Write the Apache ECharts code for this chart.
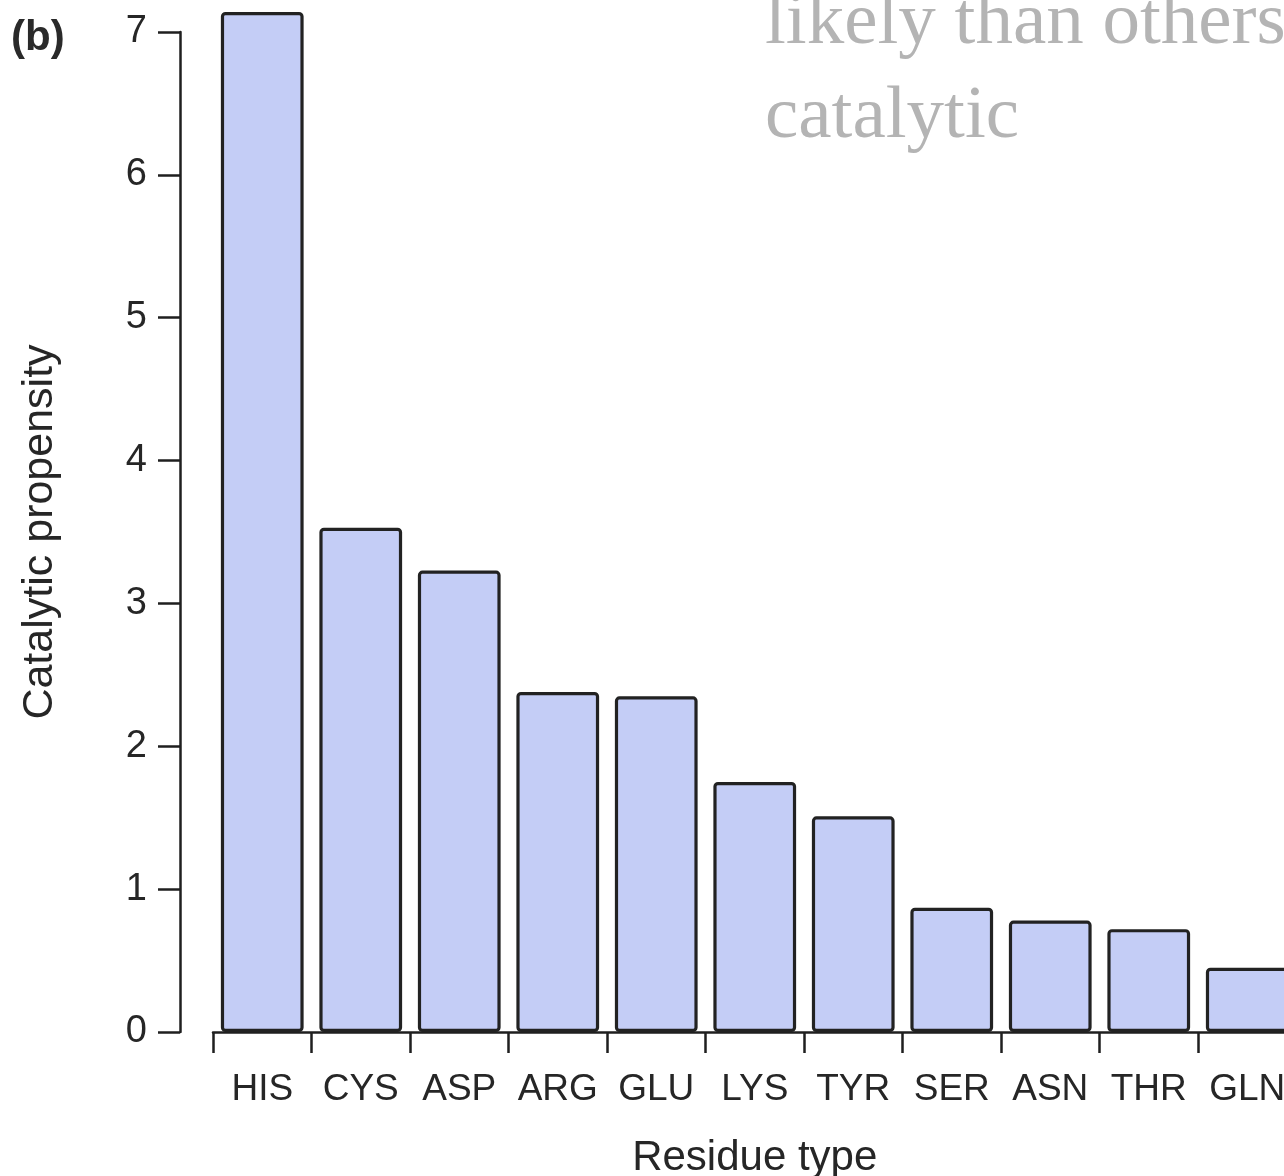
<!DOCTYPE html>
<html>
<head>
<meta charset="utf-8">
<style>
  html, body { margin: 0; padding: 0; background: #ffffff; }
  #chart { width: 1284px; height: 1176px; }
</style>
<script src="https://cdn.jsdelivr.net/npm/echarts@6/dist/echarts.min.js"></script>
</head>
<body>
<div id="chart"></div>
<script>
// Residue types, ordered by catalytic propensity
const residues = ['HIS', 'CYS', 'ASP', 'ARG', 'GLU', 'LYS', 'TYR', 'SER', 'ASN', 'THR', 'GLN'];
const propensity = [7.14, 3.53, 3.23, 2.38, 2.35, 1.75, 1.51, 0.87, 0.78, 0.72, 0.45];
const yTicks = [0, 1, 2, 3, 4, 5, 6, 7];

const axisColor = '#1f1f1f';
const textColor = '#262626';
const sans = '"Liberation Sans", Arial, Helvetica, sans-serif';
const serif = '"Liberation Serif", "Times New Roman", serif';

const chart = echarts.init(document.getElementById('chart'), null, { renderer: 'canvas' });

chart.setOption({
  backgroundColor: '#ffffff',
  animation: false,
  // plot area runs a little past the right edge of the page
  grid: {
    left: 213, width: 1083.5, top: 32, height: 1000,
    containLabel: false,
    outerBoundsMode: 'none'
  },
  xAxis: {
    type: 'category',
    data: residues,
    position: 'bottom',
    offset: 10,
    boundaryGap: true,
    axisLine: { show: true, lineStyle: { color: axisColor, width: 2.5 } },
    axisTick: { show: true, interval: 0, inside: false, length: 21, alignWithLabel: false, lineStyle: { color: axisColor, width: 2.5 } },
    axisLabel: { interval: 0, color: textColor, fontFamily: sans, fontSize: 37, margin: 29 },
    splitLine: { show: false },
    name: 'Residue type',
    nameLocation: 'middle',
    nameGap: 95,
    nameTextStyle: { color: textColor, fontFamily: sans, fontSize: 42 }
  },
  yAxis: {
    type: 'value',
    min: yTicks[0],
    max: yTicks[yTicks.length - 1],
    interval: 1,
    position: 'left',
    offset: 33,
    axisLine: { show: true, lineStyle: { color: axisColor, width: 2.5 } },
    axisTick: { show: true, inside: false, length: 22, lineStyle: { color: axisColor, width: 2.5 } },
    axisLabel: { color: textColor, fontFamily: sans, fontSize: 38, margin: 33 },
    splitLine: { show: false },
    name: 'Catalytic propensity',
    nameLocation: 'middle',
    nameGap: 118,
    nameRotate: 90,
    nameTextStyle: { color: textColor, fontFamily: sans, fontSize: 43 }
  },
  series: [{
    type: 'bar',
    data: propensity,
    clip: false,
    barCategoryGap: '16%',
    itemStyle: {
      color: '#c4cdf6',
      borderColor: '#222222',
      borderWidth: 3.2,
      borderRadius: 3
    },
    emphasis: { disabled: true }
  }],
  graphic: [
    {
      type: 'text', left: 11, top: 17,
      style: { text: '(b)', fill: '#2a2a2a', font: 'bold 42px ' + sans }
    },
    {
      type: 'text', left: 765, top: -14,
      style: { text: 'likely than others', fill: '#b4b4b4', font: '75px ' + serif }
    },
    {
      type: 'text', left: 765, top: 80,
      style: { text: 'catalytic', fill: '#b4b4b4', font: '75px ' + serif }
    }
  ]
});
</script>
</body>
</html>
